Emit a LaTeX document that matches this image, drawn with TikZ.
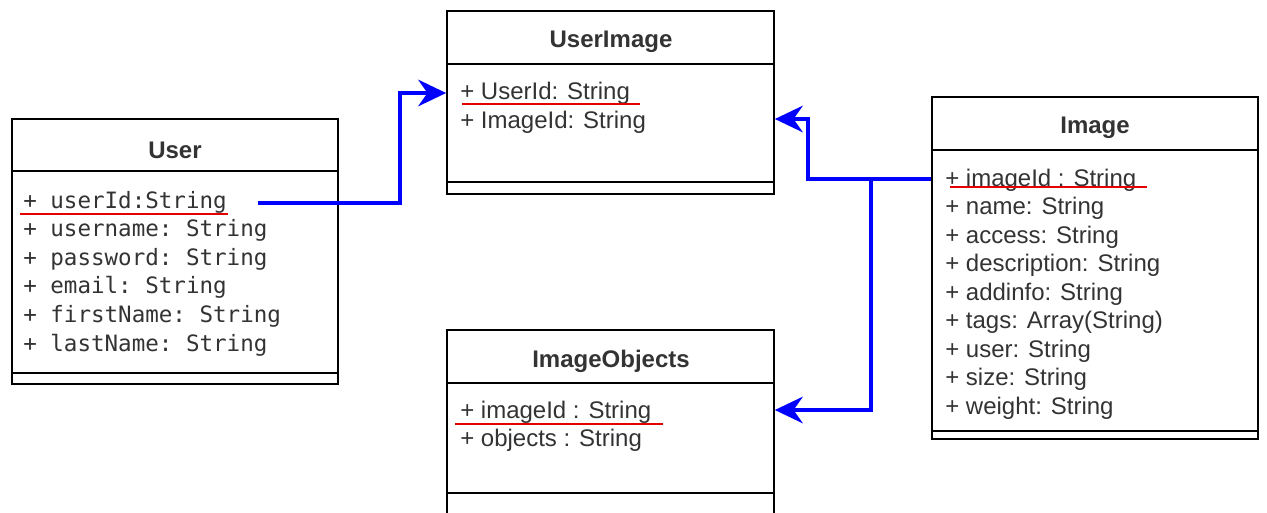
\documentclass[tikz,border=0pt]{standalone}
\usepackage{fontspec}
\setmainfont{Liberation Sans}
\setmonofont{DejaVu Sans Mono}
\usetikzlibrary{arrows.meta, fit}

\tikzset{
  cls/.style={draw, line width=1.3pt, inner sep=0pt},
  sep/.style={line width=1.3pt},
  title/.style={font=\fontsize{18}{20}\selectfont\bfseries, text=black!80},
  attr/.style={anchor=base west, inner sep=0pt, font=\fontsize{18}{20}\selectfont, text=black!80},
  mattr/.style={attr, font=\ttfamily\fontsize{16.9}{20}\selectfont},
  key/.style={red!90!black, line width=1.1pt},
  link/.style={blue, line width=2.3pt, -{Stealth[length=21pt, width=20pt, inset=7pt]}},
}

\begin{document}
\begin{tikzpicture}[x=0.75pt, y=-0.75pt]
\useasboundingbox (0,0) rectangle (1267,512);

% User
\node[cls, fit={(12,119) (338,384)}] (user) {};
\node[title] (user-t) at (175,150) {User};
\draw[sep] (12,171) -- (338,171);
\draw[sep] (12,373) -- (338,373);
\foreach \t [count=\i] in {+ userId:String, + username: String, + password: String,
  + email: String, + firstName: String, + lastName: String}
  \node[mattr] (user-\i) at (23,{208+28.6*(\i-1)}) {\t};
\draw[key] (20,214) -- (228,214);

% UserImage
\node[cls, fit={(447,11) (774,194)}] (ui) {};
\node[title] (ui-t) at (611,42) {UserImage};
\draw[sep] (447,64) -- (774,64);
\draw[sep] (447,182) -- (774,182);
\node[attr] (ui-1) at (460,99) {+ UserId: String};
\node[attr] (ui-2) at (460,128) {+ ImageId: String};
\draw[key] (462,104) -- (640,104);

% ImageObjects
\node[cls, fit={(447,330) (774,530)}] (io) {};
\node[title] (io-t) at (611,361) {ImageObjects};
\draw[sep] (447,383) -- (774,383);
\draw[sep] (447,493) -- (774,493);
\node[attr] (io-1) at (460,418) {+ imageId : String};
\node[attr] (io-2) at (460,446) {+ objects : String};
\draw[key] (455,424) -- (663,424);

% Image
\node[cls, fit={(932,97) (1258,439)}] (img) {};
\node[title] (img-t) at (1095,128) {Image};
\draw[sep] (932,150) -- (1258,150);
\draw[sep] (932,431) -- (1258,431);
\foreach \t [count=\i] in {+ imageId : String, + name: String, + access: String,
  + description: String, + addinfo: String, + tags: Array(String),
  + user: String, + size: String, + weight: String}
  \node[attr] (img-\i) at (945,{186+28.5*(\i-1)}) {\t};
\draw[key] (950,187) -- (1147,187);

% links
\coordinate (u-out) at (258,203);
\coordinate (img-out) at (img.west |- 0,179);
\draw[link] (u-out) -- (400,203) |- (ui.west |- 0,93);
\draw[link] (img-out) -- (808,179) |- (ui.east |- 0,119);
\draw[link] (871,179) |- (io.east |- 0,410);
\end{tikzpicture}
\end{document}
